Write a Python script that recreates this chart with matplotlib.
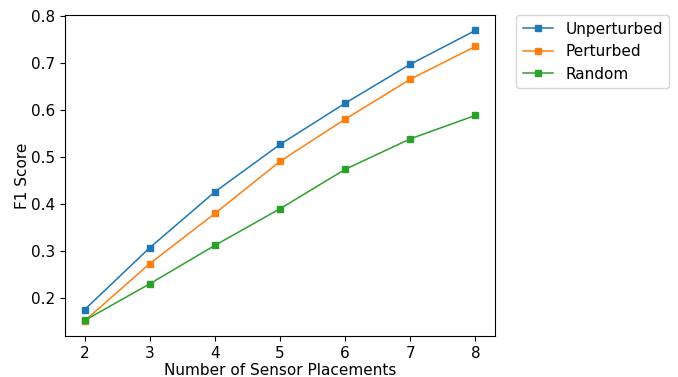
import matplotlib
matplotlib.use('Agg')
import matplotlib.pyplot as plt

placements = [2, 3, 4, 5, 6, 7, 8]
unperturbed = [0.175, 0.307, 0.426, 0.527, 0.615, 0.698, 0.770]
perturbed = [0.151, 0.273, 0.380, 0.491, 0.581, 0.666, 0.736]
random_f1 = [0.152, 0.230, 0.312, 0.390, 0.474, 0.539, 0.589]

fig = plt.figure(figsize=(6.78, 3.77), dpi=100)
ax = fig.add_axes([0.096, 0.109, 0.634, 0.85])

ax.plot(placements, unperturbed, marker='s', markersize=4.5, linewidth=1.1, label='Unperturbed')
ax.plot(placements, perturbed, marker='s', markersize=4.5, linewidth=1.1, label='Perturbed')
ax.plot(placements, random_f1, marker='s', markersize=4.5, linewidth=1.1, label='Random')
ax.set_ylim(0.119, 0.802)

ax.set_xlabel('Number of Sensor Placements', fontsize=11, labelpad=2)
ax.set_ylabel('F1 Score', fontsize=11, labelpad=1)
ax.tick_params(labelsize=11)
ax.legend(bbox_to_anchor=(1.05, 1), loc='upper left', borderaxespad=0, fontsize=11)

plt.savefig('out.png')
